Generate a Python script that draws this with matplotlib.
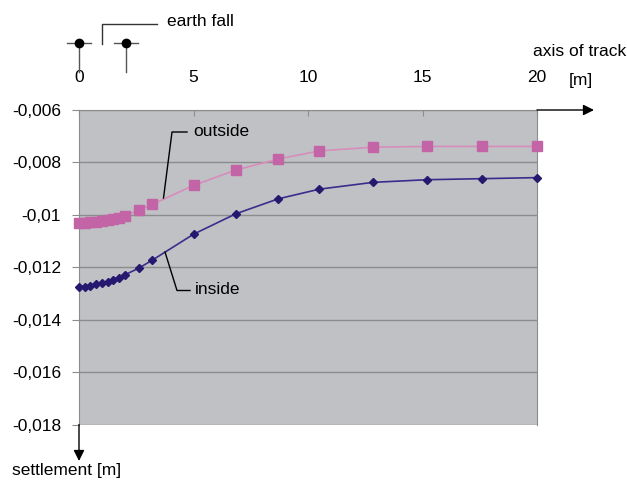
import numpy as np
import matplotlib.pyplot as plt
from matplotlib.lines import Line2D

plt.rcParams['font.family'] = ['Liberation Sans', 'DejaVu Sans']

# distance from axis of track [m]
dist = [0, 0.25, 0.5, 0.75, 1.0, 1.25, 1.5, 1.75, 2.0, 2.6, 3.2,
        5.0, 6.85, 8.7, 10.5, 12.85, 15.2, 17.6, 20]
# settlement [m]
inside = [-0.01274, -0.01274, -0.01271, -0.01265, -0.01262, -0.01255, -0.01249,
          -0.01241, -0.01229, -0.01204, -0.01173, -0.01074, -0.00996, -0.00939,
          -0.00902, -0.00876, -0.00866, -0.00862, -0.00858]
outside = [-0.01033, -0.01033, -0.01029, -0.01028, -0.01025, -0.01021, -0.01016,
           -0.01011, -0.01003, -0.00983, -0.00960, -0.00888, -0.00829, -0.00787,
           -0.00756, -0.00742, -0.00739, -0.00739, -0.00739]
yticks = [-0.006, -0.008, -0.01, -0.012, -0.014, -0.016, -0.018]
ylabels = ['-0,006', '-0,008', '-0,01', '-0,012', '-0,014', '-0,016', '-0,018']
xticks = [0, 5, 10, 15, 20]

W, H = 627, 480
fs = 12.5
grey = '#8c8c8c'

fig = plt.figure(figsize=(W / 100, H / 100), dpi=100)
ax = fig.add_axes([79 / W, 1 - 424.5 / H, 458 / W, 314.5 / H])
ax.set_facecolor('#c0c1c5')

ax.plot(dist, outside, color='#d88cbc', lw=1.2, zorder=3)
ax.plot(dist, outside, ls='none', marker='s', ms=6.5, color='#c264a6', zorder=4,
        clip_on=False)
ax.plot(dist, inside, color='#3a2c8c', lw=1.2, zorder=3)
ax.plot(dist, inside, ls='none', marker='D', ms=4.5, color='#26186e', zorder=4,
        clip_on=False)

ax.set_xlim(0, 20)
ax.set_ylim(-0.018, -0.006)
ax.set_yticks(yticks)
ax.set_yticklabels(ylabels)
ax.yaxis.grid(True, color=grey, lw=1)
ax.tick_params(axis='y', length=5, color=grey, pad=8, labelsize=fs)

ax.xaxis.tick_top()
ax.set_xticks(xticks)
ax.tick_params(axis='x', direction='in', length=4, color=grey, pad=18, labelsize=fs)

for s in ['left', 'right', 'top']:
    ax.spines[s].set_color(grey)
ax.spines['bottom'].set_visible(False)


def px(x, y):
    return x / W, 1 - y / H


def fline(xs, ys, color='black', lw=1):
    pts = [px(x, y) for x, y in zip(xs, ys)]
    fig.add_artist(Line2D([p[0] for p in pts], [p[1] for p in pts],
                          color=color, lw=lw, transform=fig.transFigure))


def farrow(p0, p1):
    fig.add_artist(plt.matplotlib.patches.FancyArrowPatch(
        px(*p0), px(*p1), transform=fig.transFigure, arrowstyle='-|>',
        mutation_scale=16, color='black', lw=1, shrinkA=0, shrinkB=0))


# axis arrows
farrow((537, 110), (594, 110))
farrow((79, 424.5), (79, 461))

# rails
for rx in [79, 126]:
    fline([rx - 12, rx + 12], [43, 43], color='#555555', lw=1)
    fline([rx, rx], [43, 72], color='#555555', lw=1)
    fig.add_artist(Line2D([rx / W], [1 - 43 / H], marker='o', ms=6, color='black',
                          transform=fig.transFigure))

# earth fall bracket
fline([102, 102, 157], [44, 24, 24], color='#333333')
fig.text(*px(167, 21), 'earth fall', fontsize=fs, va='center', ha='left')

# leaders
fline([187, 172, 163.5], [132, 132, 198])
fig.text(*px(193, 131), 'outside', fontsize=fs, va='center', ha='left')
fline([190, 177, 165], [290.5, 290.5, 252])
fig.text(*px(195, 289), 'inside', fontsize=fs, va='center', ha='left')

fig.text(*px(626, 52), 'axis of track', fontsize=fs, va='center', ha='right')
fig.text(*px(569, 81), '[m]', fontsize=fs, va='center', ha='left')
fig.text(*px(12, 471), 'settlement [m]', fontsize=fs, va='center', ha='left')

plt.savefig('out.png', dpi=100)
